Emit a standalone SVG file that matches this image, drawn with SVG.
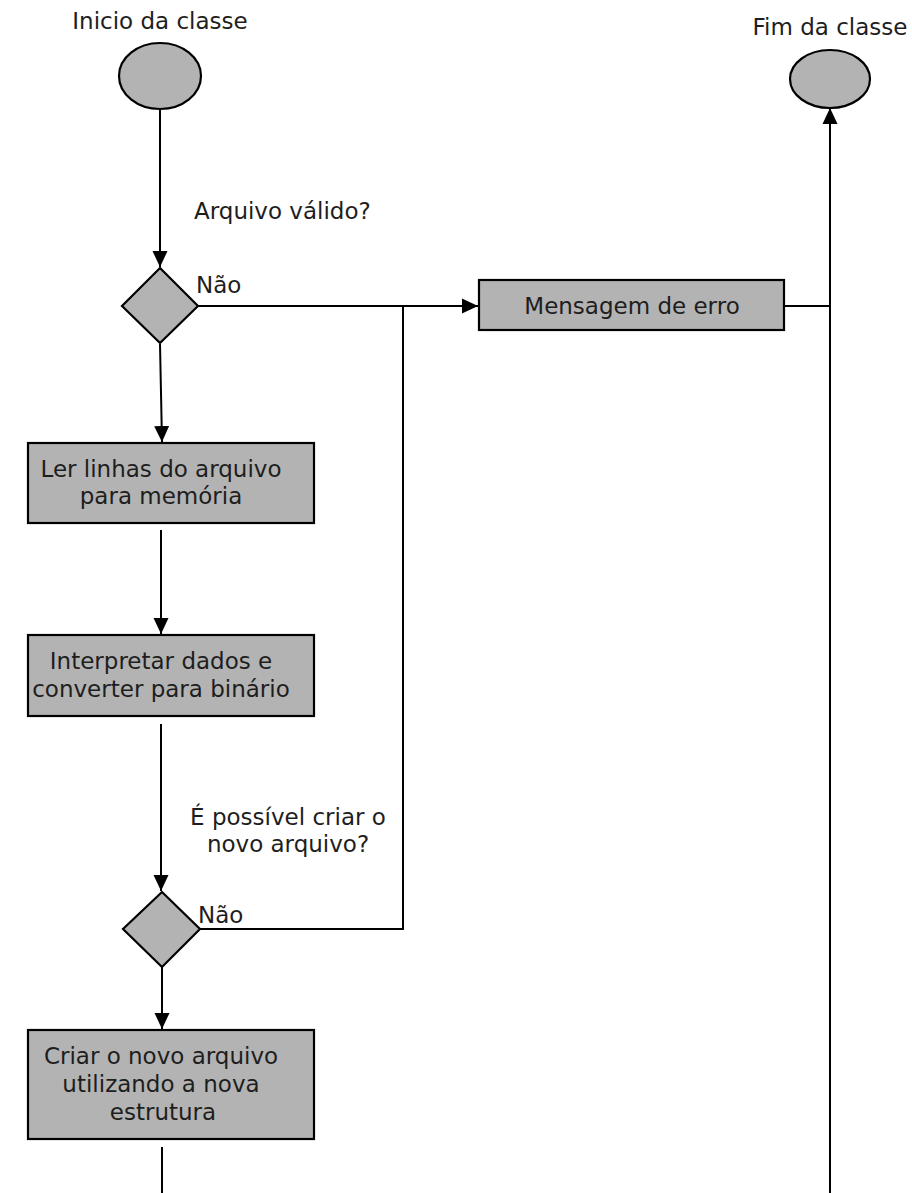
<svg xmlns="http://www.w3.org/2000/svg" width="912" height="1193" viewBox="0 0 912 1193">
  <style>
    text { font-family: "DejaVu Sans", "Liberation Sans", sans-serif; font-size: 23px; fill: #1e1e1e; }
    .mid { text-anchor: middle; }
    .shape { fill: #b3b3b3; stroke: #000; stroke-width: 2.2; }
    .wire { fill: none; stroke: #000; stroke-width: 2; }
  </style>
  <defs>
    <marker id="arrow" markerUnits="userSpaceOnUse" markerWidth="16" markerHeight="16" viewBox="0 0 16 16" refX="16" refY="8" orient="auto">
      <path d="M0,0.5 L16,8 L0,15.5 Z" fill="#000"/>
    </marker>
  </defs>
  <rect width="912" height="1193" fill="#fff"/>

  <!-- connectors -->
  <g id="connectors">
    <line class="wire" x1="160" y1="109" x2="160" y2="267" marker-end="url(#arrow)"/>
    <line class="wire" x1="198" y1="306" x2="478" y2="306" marker-end="url(#arrow)"/>
    <polyline class="wire" points="785,306 830,306"/>
    <line class="wire" x1="830" y1="1193" x2="830" y2="108" marker-end="url(#arrow)"/>
    <line class="wire" x1="160" y1="344" x2="162" y2="442" marker-end="url(#arrow)"/>
    <line class="wire" x1="161" y1="530" x2="161" y2="634" marker-end="url(#arrow)"/>
    <line class="wire" x1="161" y1="724" x2="161" y2="891" marker-end="url(#arrow)"/>
    <polyline class="wire" points="200,929 403,929 403,306"/>
    <line class="wire" x1="162" y1="967" x2="162" y2="1029" marker-end="url(#arrow)"/>
    <line class="wire" x1="162" y1="1147" x2="162" y2="1193"/>
  </g>

  <!-- start -->
  <g id="start">
    <text class="mid" x="160" y="29">Inicio da classe</text>
    <ellipse class="shape" cx="160" cy="76" rx="41" ry="33"/>
  </g>

  <!-- end -->
  <g id="end">
    <text class="mid" x="830" y="35">Fim da classe</text>
    <ellipse class="shape" cx="830" cy="79" rx="40" ry="29"/>
  </g>

  <!-- first decision -->
  <g id="decision-valid">
    <text x="194" y="219">Arquivo válido?</text>
    <polygon class="shape" points="160,268 198,306 160,343 122,306"/>
    <text x="196" y="293">Não</text>
  </g>

  <!-- error message -->
  <g id="error">
    <rect class="shape" x="479" y="280" width="305" height="50"/>
    <text class="mid" x="632" y="314">Mensagem de erro</text>
  </g>

  <!-- read lines -->
  <g id="read">
    <rect class="shape" x="28" y="443" width="286" height="80"/>
    <text class="mid" x="161" y="477">Ler linhas do arquivo</text>
    <text class="mid" x="161" y="504">para memória</text>
  </g>

  <!-- interpret -->
  <g id="interpret">
    <rect class="shape" x="28" y="635" width="286" height="81"/>
    <text class="mid" x="161" y="669">Interpretar dados e</text>
    <text class="mid" x="161" y="697">converter para binário</text>
  </g>

  <!-- second decision -->
  <g id="decision-create">
    <text class="mid" x="288" y="825">É possível criar o</text>
    <text class="mid" x="288" y="852">novo arquivo?</text>
    <polygon class="shape" points="162,892 200,929 162,967 123,929"/>
    <text x="198" y="923">Não</text>
  </g>

  <!-- create file -->
  <g id="create">
    <rect class="shape" x="28" y="1030" width="286" height="109"/>
    <text class="mid" x="161" y="1064">Criar o novo arquivo</text>
    <text class="mid" x="161" y="1092">utilizando a nova</text>
    <text class="mid" x="163" y="1120">estrutura</text>
  </g>
</svg>
